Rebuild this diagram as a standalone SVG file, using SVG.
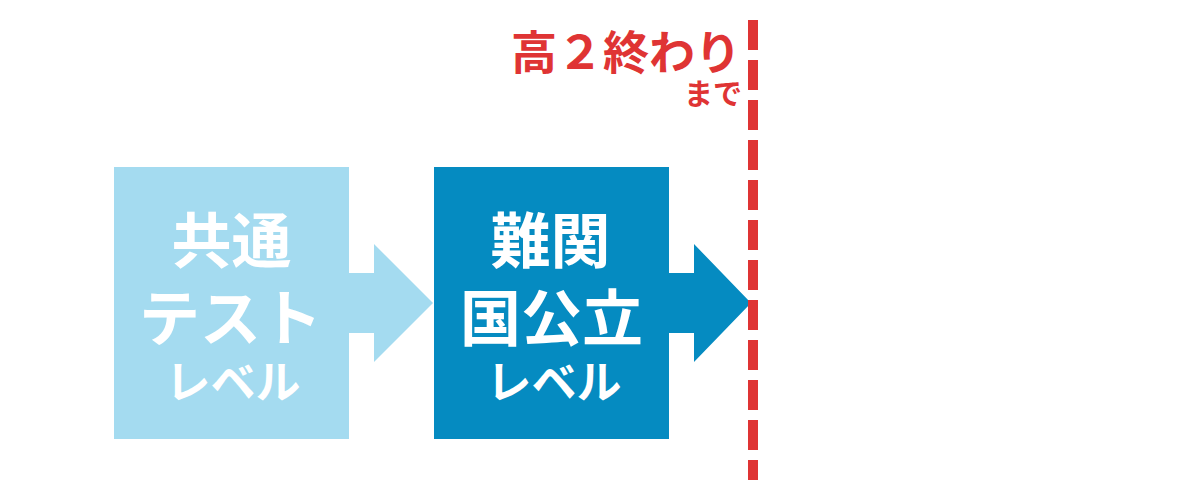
<svg xmlns="http://www.w3.org/2000/svg" width="1200" height="500" viewBox="0 0 1200 500">
<style>
.jp{font-family:"Noto Sans CJK JP","Noto Sans CJK SC",sans-serif;font-weight:700}
.w{fill:#FFFFFF;text-anchor:middle}
.r{fill:#DF3434;text-anchor:end}
</style>
<rect width="1200" height="500" fill="#FFFFFF"/>
<g id="connectors">
<polygon points="349,273 374,273 374,244 433,303 374,362 374,333 349,333" fill="#A4DBF0"/>
<polygon points="669,273 694,273 694,244 751,303 694,362 694,333 669,333" fill="#058BC1"/>
</g>
<g id="node-kyotsu">
<rect x="114" y="167" width="235" height="272" fill="#A4DBF0"/>
<text class="jp w" x="231.5" y="263" font-size="60">共通</text>
<text class="jp w" x="230.5" y="341" font-size="61">テスト</text>
<text class="jp w" x="233" y="399" font-size="45">レベル</text>
</g>
<g id="node-nankan">
<rect x="434" y="167" width="235" height="272" fill="#058BC1"/>
<text class="jp w" x="550.5" y="263" font-size="60">難関</text>
<text class="jp w" x="551.5" y="341" font-size="61">国公立</text>
<text class="jp w" x="554" y="399" font-size="45">レベル</text>
</g>
<g id="deadline">
<line x1="753" y1="20" x2="753" y2="480" stroke="#DF3434" stroke-width="10" stroke-dasharray="30 10"/>
<text class="jp r" x="741" y="69" font-size="46">高２終わり</text>
<text class="jp r" x="742" y="105" font-size="29">まで</text>
</g>
</svg>
